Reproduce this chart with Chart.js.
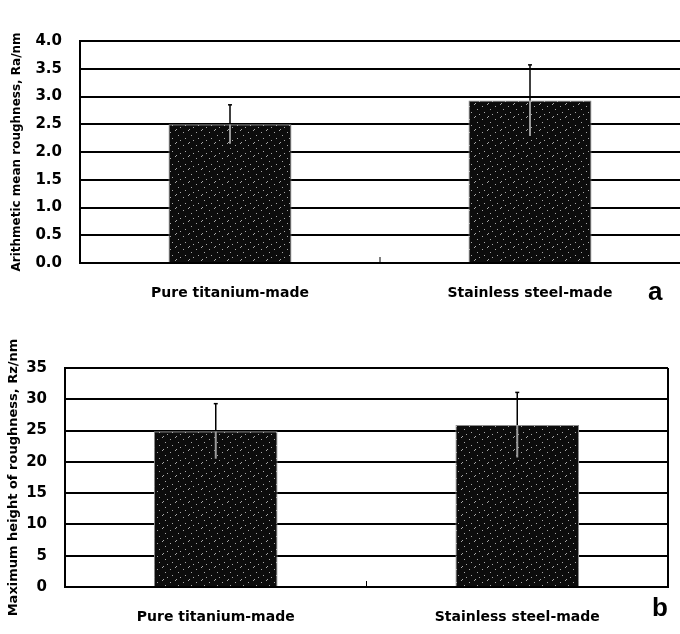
<!DOCTYPE html>
<html>
<head>
<meta charset="utf-8">
<script src="https://cdn.jsdelivr.net/npm/chart.js@4"></script>
<style>
  body { margin: 0; background: #fff; }
  .wrap { position: absolute; left: 0; width: 680px; }
  .tag { position: absolute; font: bold 26px "Liberation Sans", Arial, sans-serif; color: #000; }
</style>
</head>
<body>
<div class="wrap" style="top:0;height:310px"><canvas id="raChart" width="680" height="310"></canvas></div>
<div class="wrap" style="top:320px;height:314px"><canvas id="rzChart" width="680" height="314"></canvas></div>
<div class="tag" style="left:648px;top:276px">a</div>
<div class="tag" style="left:652px;top:592px">b</div>
<script>
const categories = ['Pure titanium-made', 'Stainless steel-made'];
const raMean = [2.5, 2.93];
const raSd = [0.35, 0.64];
const rzMean = [24.9, 25.9];
const rzSd = [4.4, 5.2];

// speckled dark fill like the scanned bars
function speckle() {
    const c = document.createElement('canvas');
    c.width = 13; c.height = 13;
    const g = c.getContext('2d');
    g.fillStyle = '#0c0c0c';
    g.fillRect(0, 0, 13, 13);
    g.fillStyle = '#a8a8a8';
    [[1,2],[6,0],[9,5],[3,8],[11,10],[7,12]].forEach(p => g.fillRect(p[0], p[1], 1, 1));
    return g.createPattern(c, 'repeat');
}

const extras = {
    id: 'extras',
    afterDatasetsDraw(chart, args, opts) {
        const {ctx, chartArea: a, scales: {x, y}} = chart;
        ctx.save();
        opts.means.forEach((m, i) => {
            const px = x.getPixelForValue(i);
            const mid = y.getPixelForValue(m);
            const hi = y.getPixelForValue(m + opts.sd[i]);
            const lo = y.getPixelForValue(m - opts.sd[i]);
            ctx.strokeStyle = '#9a9a9a';
            ctx.lineWidth = 2;
            ctx.beginPath(); ctx.moveTo(px, mid); ctx.lineTo(px, lo); ctx.stroke();
            ctx.strokeStyle = '#000';
            ctx.lineWidth = 1.5;
            ctx.beginPath(); ctx.moveTo(px, mid); ctx.lineTo(px, hi); ctx.stroke();
            ctx.beginPath(); ctx.moveTo(px - 2, hi); ctx.lineTo(px + 2, hi); ctx.stroke();
        });
        // small tick between the categories
        const mx = (x.getPixelForValue(0) + x.getPixelForValue(1)) / 2;
        ctx.lineWidth = 1;
        ctx.beginPath(); ctx.moveTo(mx, a.bottom); ctx.lineTo(mx, a.bottom - 6); ctx.stroke();
        if (opts.rightBorder) {
            ctx.lineWidth = 2;
            ctx.beginPath(); ctx.moveTo(a.right, a.top); ctx.lineTo(a.right, a.bottom); ctx.stroke();
        }
        ctx.restore();
    }
};

function makeChart(id, means, sd, max, step, decimals, title, pad, yWidth, titlePad, tickSize, titleSize, rightBorder) {
    return new Chart(document.getElementById(id), {
        type: 'bar',
        data: {
            labels: categories,
            datasets: [{
                data: means,
                backgroundColor: speckle(),
                borderColor: '#8a8a8a',
                borderWidth: 1,
                barPercentage: 0.41,
                categoryPercentage: 1
            }]
        },
        plugins: [extras],
        options: {
            responsive: false,
            animation: false,
            layout: { padding: pad },
            plugins: {
                legend: { display: false },
                tooltip: { enabled: false },
                extras: { means: means, sd: sd, rightBorder: rightBorder }
            },
            scales: {
                x: {
                    grid: { display: false },
                    border: { display: true, color: '#000', width: 2 },
                    ticks: {
                        color: '#000',
                        padding: 14,
                        font: { family: 'DejaVu Sans', size: 14, weight: 'bold' }
                    },
                    afterFit: s => { s.height = 47; }
                },
                y: {
                    min: 0,
                    max: max,
                    ticks: {
                        stepSize: step,
                        color: '#000',
                        padding: 18,
                        callback: v => Number(v).toFixed(decimals),
                        font: { family: 'DejaVu Sans', size: tickSize, weight: 'bold' }
                    },
                    grid: { color: '#000', lineWidth: 2, drawTicks: false },
                    border: { display: true, color: '#000', width: 2 },
                    title: {
                        display: true,
                        text: title,
                        color: '#000',
                        padding: { top: titlePad, bottom: 0 },
                        font: { family: 'DejaVu Sans', size: titleSize, weight: 'bold' }
                    },
                    afterFit: s => { s.width = yWidth; }
                }
            }
        }
    });
}

makeChart('raChart', raMean, raSd, 4, 0.5, 1, 'Arithmetic mean roughness, Ra/nm',
    { top: 41, right: 0, bottom: 0, left: 0 }, 80, 10, 15, 12, false);
makeChart('rzChart', rzMean, rzSd, 35, 5, 0, 'Maximum height of roughness, Rz/nm',
    { top: 48, right: 12, bottom: 0, left: 0 }, 65, 6, 15, 13, true);
</script>
</body>
</html>
